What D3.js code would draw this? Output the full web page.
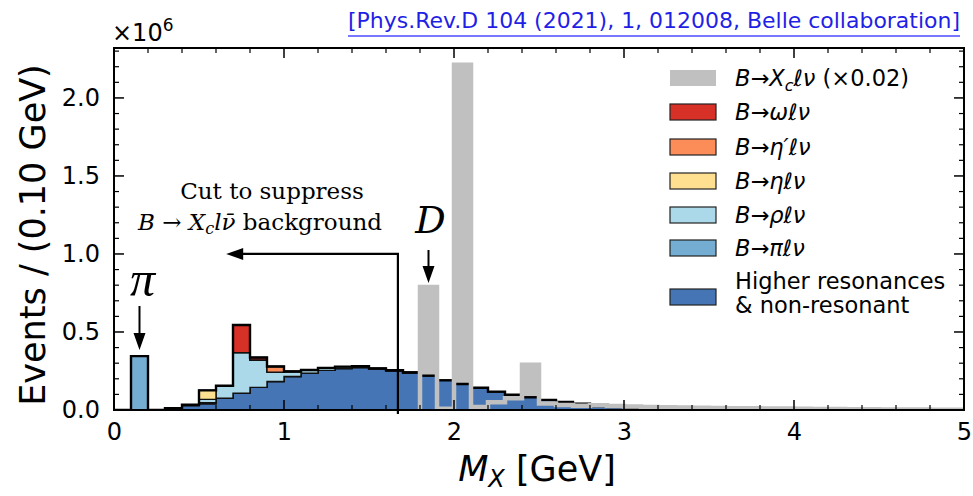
<!DOCTYPE html>
<html><head><meta charset="utf-8">
<script src="https://cdn.jsdelivr.net/npm/d3@7"></script>
<style>body{margin:0;background:#fff}svg{display:block}</style>
</head><body>
<svg id="c" width="973" height="496"></svg>
<script>
// ---------- data (units of 10^6 events, bins of 0.1 GeV starting at 0) ----------
const binWidth = 0.1;
const higher = [0,0,0,0.012,0.028,0.040,0.075,0.107,0.145,0.183,
                0.215,0.236,0.254,0.265,0.272,0.262,0.252,0.240,0.220,0.190,
                0.167,0.143,0.118,0.098,0.081,0.064,0.051,0.041,0.024,0.019,
                0.015,0.012,0.010,0.008,0.007,0.006,0.005,0.004,0.003,0.003,
                0.002,0.002,0.002,0.001,0.001,0.001,0.001,0.001,0.001,0.001];
const piLnu  = [0,0.345,0,0,0,0.006,0,0,0,0, 0,0,0,0,0,0,0,0,0,0,
                0,0,0,0,0,0,0,0,0,0, 0,0,0,0,0,0,0,0,0,0, 0,0,0,0,0,0,0,0,0,0];
const rhoLnu = [0,0,0,0,0.006,0.022,0.080,0.261,0.175,0.060,
                0.032,0.020,0.016,0.013,0.008,0.005,0.003,0,0,0,
                0,0,0,0,0,0,0,0,0,0, 0,0,0,0,0,0,0,0,0,0, 0,0,0,0,0,0,0,0,0,0];
const etaLnu = [0,0,0,0,0,0.058,0,0,0,0, 0,0,0,0,0,0,0,0,0,0,
                0,0,0,0,0,0,0,0,0,0, 0,0,0,0,0,0,0,0,0,0, 0,0,0,0,0,0,0,0,0,0];
const etapLnu= [0,0,0,0,0,0,0,0,0,0.036, 0,0,0,0,0,0,0,0,0,0,
                0,0,0,0,0,0,0,0,0,0, 0,0,0,0,0,0,0,0,0,0, 0,0,0,0,0,0,0,0,0,0];
const omegaLnu=[0,0,0,0,0,0,0,0.177,0.016,0, 0,0,0,0,0,0,0,0,0,0,
                0,0,0,0,0,0,0,0,0,0, 0,0,0,0,0,0,0,0,0,0, 0,0,0,0,0,0,0,0,0,0];
const xcLnu  = [0,0,0,0,0,0,0,0,0,0, 0,0,0,0,0,0,0,0,0.788,0.008,
                2.213,0.020,0.050,0.075,0.290,0.042,0.032,0.028,0.030,0.026,
                0.022,0.020,0.018,0.016,0.015,0.013,0.012,0.011,0.010,0.009,
                0.008,0.007,0.006,0.005,0.005,0.004,0.003,0.003,0.002,0.002];
const xTicks = [0,1,2,3,4,5];
const yTicks = [0.0,0.5,1.0,1.5,2.0];
const cutValue = 1.67;

const layers = [
  {key:"higher", vals:higher,  color:"#4575b4"},
  {key:"pi",     vals:piLnu,   color:"#74add1"},
  {key:"rho",    vals:rhoLnu,  color:"#abd9e9"},
  {key:"eta",    vals:etaLnu,  color:"#fee090"},
  {key:"etap",   vals:etapLnu, color:"#fc8d59"},
  {key:"omega",  vals:omegaLnu,color:"#d73027"}
];
const xcColor = "#c0c0c0";

// ---------- scales ----------
const svg = d3.select("#c");
const L=114, R=964, T=48, B=410;
const x = d3.scaleLinear().domain([0,5]).range([L,R]);
const y = d3.scaleLinear().domain([0,2.32]).range([B,T]);
const nb = higher.length;
const edges = d3.range(nb+1).map(i=>+(i*binWidth).toFixed(2));

svg.append("defs").append("clipPath").attr("id","clip")
  .append("rect").attr("x",L).attr("y",T).attr("width",R-L).attr("height",B-T);
const plot = svg.append("g").attr("clip-path","url(#clip)");

const table = d3.range(nb).map(i=>{const o={i}; layers.forEach(l=>o[l.key]=l.vals[i]); return o;});
const stacked = d3.stack().keys(layers.map(l=>l.key))(table);

function stepPts(arr0, arr1){
  const pts = d3.range(nb).map(i=>({x:edges[i], y0:arr0[i], y1:arr1[i]}));
  pts.push({x:edges[nb], y0:arr0[nb-1], y1:arr1[nb-1]});
  return pts;
}
const area = d3.area().curve(d3.curveStepAfter).x(d=>x(d.x)).y0(d=>y(d.y0)).y1(d=>y(d.y1));

// Xc filled histogram (behind)
const first = xcLnu.findIndex(v=>v>0);
const xcPts = [];
for(let i=first;i<nb;i++) xcPts.push({x:edges[i], y0:0, y1:xcLnu[i]});
xcPts.push({x:edges[nb], y0:0, y1:xcLnu[nb-1]});
plot.append("path").attr("d", area(xcPts)).attr("fill", xcColor);

// stack layers
stacked.forEach((s,k)=>{
  const pts = stepPts(s.map(d=>d[0]), s.map(d=>d[1]));
  plot.append("path").attr("d", area(pts))
    .attr("fill", layers[k].color).attr("stroke","#111").attr("stroke-width",1.4)
    .attr("stroke-linejoin","miter");
});
const totals = d3.range(nb).map(i=>layers.reduce((a,l)=>a+l.vals[i],0));
const lineStep = d3.line().curve(d3.curveStepAfter).x(d=>x(d.x)).y(d=>y(d.v));
const totPts = d3.range(nb).map(i=>({x:edges[i], v:totals[i]}));
totPts.push({x:edges[nb], v:totals[nb-1]});
plot.append("path").attr("d", lineStep(totPts)).attr("fill","none")
  .attr("stroke","#000").attr("stroke-width",2.4);

// Xc step outline on top
const xcLine = [{x:edges[first], v:0}];
for(let i=first;i<nb;i++) xcLine.push({x:edges[i], v:xcLnu[i]});
xcLine.push({x:edges[nb], v:xcLnu[nb-1]});
xcLine.push({x:edges[nb], v:0});
plot.append("path").attr("d", lineStep(xcLine)).attr("fill","none")
  .attr("stroke", xcColor).attr("stroke-width",4.5).attr("stroke-linejoin","miter");

// ---------- frame & ticks ----------
const axG = svg.append("g");
function ticksX(vals, len, w){
  vals.forEach(v=>{
    axG.append("line").attr("x1",x(v)).attr("x2",x(v)).attr("y1",B).attr("y2",B-len).attr("stroke","#000").attr("stroke-width",w);
    axG.append("line").attr("x1",x(v)).attr("x2",x(v)).attr("y1",T).attr("y2",T+len).attr("stroke","#000").attr("stroke-width",w);
  });
}
function ticksY(vals, len, w){
  vals.forEach(v=>{
    axG.append("line").attr("y1",y(v)).attr("y2",y(v)).attr("x1",L).attr("x2",L+len).attr("stroke","#000").attr("stroke-width",w);
    axG.append("line").attr("y1",y(v)).attr("y2",y(v)).attr("x1",R).attr("x2",R-len).attr("stroke","#000").attr("stroke-width",w);
  });
}
ticksX(x.ticks(25).filter(v=>Math.abs(v-Math.round(v))>1e-6), 5, 1.2);
ticksX(xTicks, 10, 1.5);
ticksY(d3.range(0,2.31,0.1).filter(v=>Math.abs(v*2-Math.round(v*2))>1e-6), 5, 1.2);
ticksY(yTicks, 10, 1.5);

const xAxis = d3.axisBottom(x).tickValues(xTicks).tickSize(0).tickPadding(13).tickFormat(d3.format("d"));
const gx = svg.append("g").attr("transform",`translate(0,${B})`).call(xAxis);
gx.select(".domain").remove();
gx.selectAll("text").attr("font-family","DejaVu Sans").attr("font-size",24).attr("fill","#000");
const yAxis = d3.axisLeft(y).tickValues(yTicks).tickSize(0).tickPadding(14).tickFormat(d3.format(".1f"));
const gy = svg.append("g").attr("transform",`translate(${L},0)`).call(yAxis);
gy.select(".domain").remove();
gy.selectAll("text").attr("font-family","DejaVu Sans").attr("font-size",24).attr("fill","#000");

svg.append("rect").attr("x",L).attr("y",T).attr("width",R-L).attr("height",B-T)
  .attr("fill","none").attr("stroke","#000").attr("stroke-width",2);

// multiplier
const mult = svg.append("text").attr("x",L-2).attr("y",41).attr("font-family","DejaVu Sans").attr("font-size",24);
mult.append("tspan").text("×10");
mult.append("tspan").attr("dy",-10).attr("font-size",17).text("6");

// axis labels
svg.append("text").attr("transform",`translate(45,${(T+B)/2+6}) rotate(-90)`)
  .attr("text-anchor","middle").attr("font-family","DejaVu Sans").attr("font-size",35).text("Events / (0.10 GeV)");
const xl = svg.append("text").attr("x",537).attr("y",481).attr("text-anchor","middle")
  .attr("font-family","DejaVu Sans").attr("font-size",35);
xl.append("tspan").attr("font-style","italic").text("M");
xl.append("tspan").attr("font-style","italic").attr("font-size",24).attr("dy",6).text("X");
xl.append("tspan").attr("dy",-6).text(" [GeV]");

// title reference
svg.append("text").attr("x",960).attr("y",28).attr("text-anchor","end")
  .attr("font-family","DejaVu Sans").attr("font-size",22).attr("fill","#1f1fe6")
  .attr("textLength",612).attr("lengthAdjust","spacingAndGlyphs")
  .text("[Phys.Rev.D 104 (2021), 1, 012008, Belle collaboration]");
svg.append("line").attr("x1",348).attr("x2",960).attr("y1",36).attr("y2",36).attr("stroke","#4a4aff").attr("stroke-width",1.5);

// ---------- annotations ----------
const ann = svg.append("g");
function arrowHead(tx, ty, dir){
  let p;
  if(dir==="down") p=[[tx,ty],[tx-6,ty-17],[tx+6,ty-17]];
  else p=[[tx,ty],[tx+17,ty-6],[tx+17,ty+6]];
  ann.append("polygon").attr("points",p.map(q=>q.join(",")).join(" ")).attr("fill","#000");
}
const cutTop = 1.0, cutArrowEnd = 0.66;
ann.append("path").attr("d",`M${x(cutValue)},${y(0)+4}V${y(cutTop)}H${x(cutArrowEnd)+12}`)
  .attr("fill","none").attr("stroke","#000").attr("stroke-width",2.2);
arrowHead(x(cutArrowEnd), y(cutTop), "left");

ann.append("text").attr("x",272).attr("y",199).attr("text-anchor","middle")
  .attr("font-family","DejaVu Serif").attr("font-size",23).text("Cut to suppress");
const t2 = ann.append("text").attr("x",260).attr("y",230).attr("text-anchor","middle")
  .attr("font-family","DejaVu Serif").attr("font-size",23);
t2.append("tspan").attr("font-style","italic").text("B");
t2.append("tspan").text(" → ");
t2.append("tspan").attr("font-style","italic").text("X");
t2.append("tspan").attr("font-style","italic").attr("font-size",16).attr("dy",4).text("c");
t2.append("tspan").attr("font-style","italic").attr("dy",-4).text("l\u03BD\u0304");
t2.append("tspan").text(" background");

// D label
const dX = x(1.85);
ann.append("text").attr("x",dX+2).attr("y",233).attr("text-anchor","middle")
  .attr("font-family","DejaVu Serif").attr("font-style","italic").attr("font-size",38).text("D");
ann.append("line").attr("x1",dX).attr("x2",dX).attr("y1",250).attr("y2",270).attr("stroke","#000").attr("stroke-width",2);
arrowHead(dX, 283, "down");
// pi label
const pX = x(0.15);
ann.append("text").attr("x",pX+3).attr("y",296).attr("text-anchor","middle")
  .attr("font-family","Liberation Serif").attr("font-style","italic").attr("font-size",50).text("π");
ann.append("line").attr("x1",pX).attr("x2",pX).attr("y1",306).attr("y2",336).attr("stroke","#000").attr("stroke-width",2);
arrowHead(pX, 350, "down");

// ---------- legend ----------
const legend = [
  {color:xcColor, edge:false, parts:[["B",1],["→",0],["X",1],["c",2],["ℓν",1],[" (×0.02)",0]]},
  {color:"#d73027", edge:true, parts:[["B",1],["→",0],["ωℓν",1]]},
  {color:"#fc8d59", edge:true, parts:[["B",1],["→",0],["η′ℓν",1]]},
  {color:"#fee090", edge:true, parts:[["B",1],["→",0],["ηℓν",1]]},
  {color:"#abd9e9", edge:true, parts:[["B",1],["→",0],["ρℓν",1]]},
  {color:"#74add1", edge:true, parts:[["B",1],["→",0],["πℓν",1]]},
  {color:"#4575b4", edge:true, lines:["Higher resonances","& non-resonant"]}
];
const rowY = [78,112,147,181,215,248,297];
const lg = svg.append("g");
legend.forEach((it,i)=>{
  const cy = rowY[i];
  lg.append("rect").attr("x",670).attr("y",cy-8).attr("width",46).attr("height",16)
    .attr("fill",it.color).attr("stroke",it.edge?"#222":"none").attr("stroke-width",1.2);
  if(it.lines){
    it.lines.forEach((ln,j)=>lg.append("text").attr("x",735).attr("y",cy-8+j*24)
      .attr("font-family","DejaVu Sans").attr("font-size",22.5).text(ln));
  } else {
    const t = lg.append("text").attr("x",735).attr("y",cy+8).attr("font-family","DejaVu Sans").attr("font-size",22.5);
    let sub=false;
    it.parts.forEach(([s,f])=>{
      const ts = t.append("tspan").text(s);
      if(f===1||f===2) ts.attr("font-style","italic");
      if(f===2){ts.attr("font-size",16).attr("dy",5); sub=true;}
      else if(sub){ts.attr("dy",-5); sub=false;}
    });
  }
});
</script>
</body></html>
